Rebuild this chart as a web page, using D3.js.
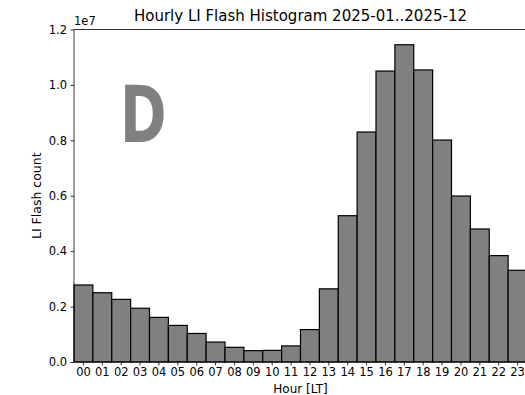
<!DOCTYPE html>
<html>
<head>
<meta charset="utf-8">
<script src="https://cdn.jsdelivr.net/npm/d3@7"></script>
<style>
  body { margin: 0; background: #fff; }
  text { font-family: "DejaVu Sans", sans-serif; }
</style>
</head>
<body>
<div id="chart"></div>
<script>
var width = 525;
var height = 395;

// hourly counts (flashes)
var hours = ['00','01','02','03','04','05','06','07','08','09','10','11',
             '12','13','14','15','16','17','18','19','20','21','22','23'];
var counts = [2.78e6, 2.50e6, 2.26e6, 1.94e6, 1.61e6, 1.32e6, 1.03e6, 0.72e6,
              0.53e6, 0.41e6, 0.42e6, 0.58e6, 1.17e6, 2.64e6, 5.28e6, 8.30e6,
              10.50e6, 11.45e6, 10.54e6, 8.01e6, 5.99e6, 4.80e6, 3.84e6, 3.31e6];
var yTicks = [0, 0.2e7, 0.4e7, 0.6e7, 0.8e7, 1.0e7, 1.2e7];

var mLeft = 74, mRight = 527, mTop = 29.5, mBottom = 362;

var svg = d3.select('#chart').append('svg')
    .attr('width', width)
    .attr('height', height);

var x = d3.scaleBand()
    .domain(hours)
    .range([mLeft, mRight])
    .padding(0);

var y = d3.scaleLinear()
    .domain([0, 1.2e7])
    .range([mBottom, mTop]);

// big panel letter
svg.append('text')
    .attr('transform', 'translate(120,141.5) scale(0.72,1)')
    .attr('font-size', 78)
    .attr('font-weight', 'bold')
    .attr('fill', '#808080')
    .text('D');

// bars
svg.selectAll('rect.bar')
    .data(counts)
    .enter().append('rect')
    .attr('class', 'bar')
    .attr('x', function(d, i) { return x(hours[i]); })
    .attr('width', x.bandwidth())
    .attr('y', function(d) { return y(d); })
    .attr('height', function(d) { return mBottom - y(d); })
    .attr('fill', '#808080')
    .attr('stroke', '#000')
    .attr('stroke-width', 1.2);

// y axis
var yAxis = d3.axisLeft(y)
    .tickValues(yTicks)
    .tickSize(3.5)
    .tickPadding(3.5)
    .tickFormat(function(d) { return (d / 1e7).toFixed(1); });

var gy = svg.append('g')
    .attr('transform', 'translate(' + mLeft + ',0)')
    .call(yAxis);
gy.select('.domain').remove();
gy.selectAll('text').attr('font-size', 11.5).attr('fill', '#000')
    .style('font-family', '"DejaVu Sans", sans-serif');
gy.selectAll('line').attr('stroke', '#000').attr('stroke-width', 0.8);

// x axis
var xAxis = d3.axisBottom(x)
    .tickSize(3.5)
    .tickPadding(2);

var gx = svg.append('g')
    .attr('transform', 'translate(0,' + mBottom + ')')
    .call(xAxis);
gx.select('.domain').remove();
gx.selectAll('text').attr('font-size', 11.5).attr('fill', '#000')
    .style('font-family', '"DejaVu Sans", sans-serif');
gx.selectAll('line').attr('stroke', '#000').attr('stroke-width', 0.8);

// spines
svg.append('line').attr('x1', mLeft).attr('x2', mLeft).attr('y1', mTop).attr('y2', mBottom)
    .attr('stroke', '#000').attr('stroke-width', 0.8);
svg.append('line').attr('x1', mLeft).attr('x2', mRight).attr('y1', mBottom).attr('y2', mBottom)
    .attr('stroke', '#000').attr('stroke-width', 0.8);
svg.append('line').attr('x1', mLeft).attr('x2', mRight).attr('y1', mTop).attr('y2', mTop)
    .attr('stroke', '#000').attr('stroke-width', 0.8);

// offset text
svg.append('text')
    .attr('x', mLeft)
    .attr('y', 25)
    .attr('font-size', 11.5)
    .text('1e7');

// title
svg.append('text')
    .attr('x', (mLeft + mRight) / 2)
    .attr('y', 21)
    .attr('text-anchor', 'middle')
    .attr('font-size', 15)
    .text('Hourly LI Flash Histogram 2025-01..2025-12');

// axis labels
svg.append('text')
    .attr('x', (mLeft + mRight) / 2)
    .attr('y', 393)
    .attr('text-anchor', 'middle')
    .attr('font-size', 12)
    .text('Hour [LT]');

svg.append('text')
    .attr('transform', 'translate(40.5,' + ((mTop + mBottom) / 2) + ') rotate(-90)')
    .attr('text-anchor', 'middle')
    .attr('font-size', 12.5)
    .text('LI Flash count');
</script>
</body>
</html>
